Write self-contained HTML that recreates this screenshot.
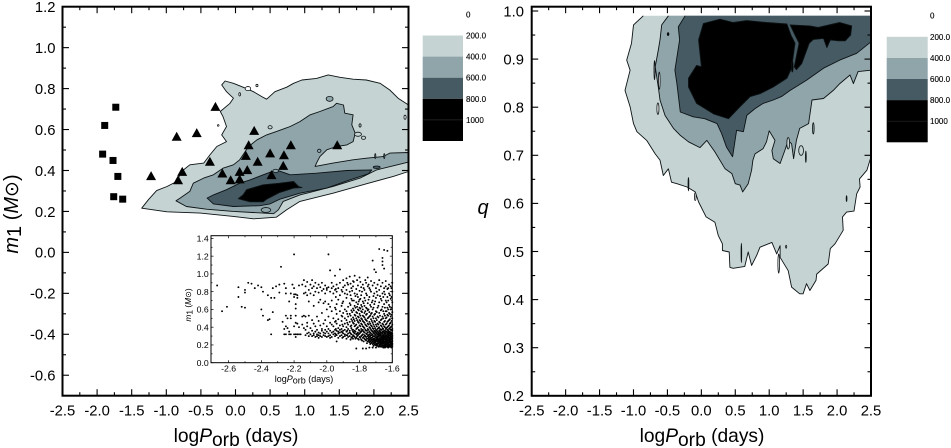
<!DOCTYPE html>
<html>
<head>
<meta charset="utf-8">
<title>Orbital period contour charts</title>
<style>
html,body{margin:0;padding:0;background:#fff;width:951px;height:448px;overflow:hidden}
svg{display:block;font-family:"Liberation Sans",sans-serif}
</style>
</head>
<body>
<svg id="figure" width="951" height="448" viewBox="0 0 951 448" xmlns="http://www.w3.org/2000/svg">
  <text x="236" y="442" font-size="19.2" text-anchor="middle">log<tspan font-style="italic">P</tspan><tspan dy="4">orb</tspan><tspan dy="-4"> (days)</tspan></text>
  <text x="702" y="442" font-size="19.2" text-anchor="middle">log<tspan font-style="italic">P</tspan><tspan dy="4">orb</tspan><tspan dy="-4"> (days)</tspan></text>
  <text transform="translate(18,214) rotate(-90)" font-size="20" text-anchor="middle"><tspan font-style="italic">m</tspan><tspan dy="3">1</tspan><tspan dy="-3"> (</tspan><tspan font-style="italic">M</tspan><tspan font-family="DejaVu Sans,sans-serif" font-size="19">⊙</tspan>)</text>
  <text x="483" y="214" font-size="20" font-style="italic" text-anchor="middle">q</text>
  <text x="304" y="382" font-size="9" text-anchor="middle">log<tspan font-style="italic">P</tspan><tspan dy="1.5">orb</tspan><tspan dy="-1.5"> (days)</tspan></text>
  <text transform="translate(191,305) rotate(-90)" font-size="8.4" text-anchor="middle"><tspan font-style="italic">m</tspan><tspan dy="1.5">1</tspan><tspan dy="-1.5"> (</tspan><tspan font-style="italic">M</tspan><tspan font-family="DejaVu Sans,sans-serif" font-size="8">⊙</tspan>)</text>
</svg>
<script>
// ---- tick values ----
const periodTicks = [-2.5,-2.0,-1.5,-1.0,-0.5,0.0,0.5,1.0,1.5,2.0,2.5];
const massTicks = [1.2,1.0,0.8,0.6,0.4,0.2,0.0,-0.2,-0.4,-0.6];
const ratioTicks = [1.0,0.9,0.8,0.7,0.6,0.5,0.4,0.3,0.2];
const insetPeriodTicks = [-2.6,-2.4,-2.2,-2.0,-1.8,-1.6];
const insetMassTicks = [1.4,1.2,1.0,0.8,0.6,0.4,0.2,0.0];
const legendLevels = [0,200,400,600,800,1000];
const legendLabels = ["0","200.0","400.0","600.0","800.0","1000"];
const legendBands = [[200,400],[400,600],[600,800],[800,1200]];

// ---- left panel contours: [logPorb, m1] ----
const massContour200 = [[-1.355,.216],[-1.26,.257],[-1.14,.302],[-.99,.322],[-.85,.346],[-.78,.395],[-.66,.428],[-.46,.436],[-.37,.476],[-.27,.517],[-.13,.541],[-.20,.574],[-.13,.615],[-.18,.663],[-.22,.688],[-.08,.728],[-.03,.753],[-.13,.785],[-.20,.818],[-.15,.837],[-.03,.826],[.11,.807],[.26,.785],[.38,.761],[.45,.748],[.57,.785],[.74,.807],[.84,.826],[.96,.842],[1.17,.85],[1.34,.867],[1.51,.855],[1.70,.846],[1.89,.842],[2.09,.826],[2.23,.793],[2.35,.753],[2.5,.72],[2.5,.395],[2.28,.371],[1.89,.335],[1.41,.289],[.93,.249],[.74,.208],[.59,.172],[.26,.164],[-.03,.176],[-.51,.192],[-.99,.198]];
const massContour400 = [[-.86,.252],[-.80,.265],[-.66,.298],[-.61,.338],[-.46,.363],[-.32,.379],[-.18,.411],[-.03,.428],[.06,.452],[.19,.517],[.31,.55],[.45,.574],[.59,.59],[.79,.615],[.93,.639],[1.08,.672],[1.22,.688],[1.41,.712],[1.46,.728],[1.56,.72],[1.58,.68],[1.70,.672],[1.68,.623],[1.73,.582],[1.70,.541],[1.61,.525],[1.46,.517],[1.32,.501],[1.22,.468],[1.17,.436],[1.15,.42],[1.41,.436],[1.70,.452],[1.89,.46],[2.13,.468],[2.23,.485],[2.5,.488],[2.5,.441],[2.28,.423],[2.04,.403],[1.80,.363],[1.41,.322],[.93,.281],[.69,.249],[.62,.208],[.55,.189],[.40,.192],[-.03,.20],[-.42,.211],[-.71,.224]];
const massContour600 = [[-.41,.265],[-.32,.281],[-.13,.306],[.06,.338],[.21,.354],[.40,.379],[.59,.403],[.79,.379],[1.17,.387],[1.61,.40],[1.97,.403],[1.92,.384],[1.65,.354],[1.32,.314],[.93,.289],[.64,.26],[.50,.237],[.35,.228],[-.03,.224],[-.32,.237]];
const massContour800 = [[.04,.262],[.11,.281],[.16,.306],[.40,.33],[.64,.338],[.84,.346],[.91,.322],[.96,.317],[.84,.314],[.64,.293],[.45,.26],[.40,.247],[.21,.247]];
const massSpecks = [[1.36,.75,.05,.012,1],[.44,.207,.07,.012,1],[.58,.398,.04,.008,1],[2.04,.416,.05,.006,2],[.18,.80,.04,.010,-1],[.31,.815,.015,.006,-1],[.06,.772,.012,.008,-1],[1.77,.577,.05,.010,0],[1.85,.56,.03,.008,0],[1.21,.496,.025,.008,1],[.50,.611,.03,.008,0],[1.80,.62,.015,.008,0],[2.02,.47,.008,.012,1],[2.15,.47,.008,.012,1],[2.45,.66,.015,.010,-1],[-.25,.62,.012,.004,-1]];

// ---- left panel stars: [logPorb, m1] ----
const squareStars = [[-1.73,.709],[-1.89,.62],[-1.92,.48],[-1.77,.449],[-1.70,.371],[-1.76,.272],[-1.63,.26]];
const triangleStars = [[-.29,.712],[-.85,.566],[-.56,.584],[.27,.595],[.19,.525],[.15,.473],[.50,.485],[.70,.476],[.80,.525],[1.47,.525],[.32,.444],[.69,.424],[-.37,.444],[-.77,.395],[-.83,.354],[-1.22,.374],[-.19,.387],[.06,.395],[.17,.403],[.52,.379],[-.07,.354],[.06,.358]];

// ---- right panel contours: [logPorb, q] ----
const ratioContour200 = [[-.855,.99],[-1.0,.971],[-1.03,.933],[-1.10,.898],[-1.05,.877],[-1.125,.835],[-1.05,.801],[-1.0,.766],[-.95,.749],[-.805,.731],[-.68,.703],[-.61,.69],[-.56,.658],[-.485,.672],[-.44,.644],[-.36,.641],[-.21,.634],[-.09,.624],[-.04,.603],[.07,.572],[.20,.561],[.25,.533],[.31,.516],[.31,.502],[.41,.499],[.42,.467],[.47,.465],[.64,.469],[.69,.499],[.74,.471],[.815,.492],[.865,.509],[1.04,.519],[1.11,.495],[1.16,.512],[1.16,.488],[1.28,.46],[1.33,.426],[1.45,.412],[1.50,.412],[1.55,.433],[1.60,.419],[1.69,.44],[1.70,.453],[1.87,.474],[1.90,.506],[1.97,.516],[2.09,.544],[2.08,.572],[2.14,.582],[2.25,.584],[2.29,.62],[2.34,.634],[2.33,.651],[2.44,.669],[2.5,.697],[2.5,.99]];
const ratioContour400 = [[-.485,.99],[-.585,.971],[-.61,.94],[-.635,.919],[-.68,.884],[-.635,.842],[-.61,.815],[-.535,.783],[-.41,.756],[-.315,.742],[-.19,.728],[-.02,.716],[.08,.731],[.20,.707],[.35,.672],[.45,.662],[.50,.641],[.57,.638],[.61,.624],[.69,.641],[.74,.669],[.76,.69],[.79,.703],[.91,.714],[.96,.728],[1.0,.751],[1.085,.731],[1.04,.71],[1.06,.693],[1.16,.683],[1.23,.71],[1.28,.731],[1.33,.724],[1.36,.693],[1.40,.731],[1.45,.756],[1.58,.766],[1.63,.815],[1.80,.818],[1.945,.835],[2.04,.849],[2.19,.867],[2.24,.849],[2.31,.874],[2.5,.877],[2.5,.99]];
const ratioContour600 = [[-.24,.99],[-.34,.967],[-.32,.94],[-.39,.877],[-.36,.849],[-.31,.79],[-.12,.78],[.05,.776],[.23,.766],[.30,.745],[.37,.717],[.46,.697],[.52,.752],[.62,.749],[.67,.783],[.79,.797],[.91,.808],[1.06,.815],[1.18,.822],[1.31,.835],[1.55,.856],[1.80,.881],[2.04,.898],[2.29,.912],[2.5,.936],[2.5,.99]];
const ratioContour800a = [[.03,.974],[.275,.983],[.47,.976],[.67,.98],[.96,.976],[1.26,.973],[1.32,.95],[1.38,.933],[1.33,.881],[1.26,.86],[1.06,.842],[.865,.828],[.72,.822],[.57,.801],[.40,.776],[.18,.786],[-.07,.808],[-.19,.842],[-.19,.86],[-.07,.887],[0,.884],[-.04,.94]];
const ratioContour800b = [[1.31,.971],[1.60,.969],[1.72,.966],[2.04,.976],[2.215,.969],[2.20,.95],[2.12,.938],[2.02,.938],[1.90,.94],[1.85,.924],[1.80,.943],[1.65,.941],[1.59,.933],[1.48,.891],[1.40,.878],[1.37,.884],[1.44,.933],[1.38,.95]];
const ratioSpecks = [[-.69,.877,.008,.02,-1],[-.64,.797,.015,.012,-1],[-.62,.855,.012,.018,-1],[-.49,.952,.012,.003,3],[1.47,.71,.035,.010,0],[1.28,.725,.02,.012,0],[1.65,.756,.012,.012,1],[1.54,.697,.006,.012,1],[-.19,.64,.006,.014,-1],[-.09,.614,.012,.008,-1],[.59,.497,.005,.02,-1],[1.14,.475,.012,.02,-1],[2.14,.61,.006,.006,-1],[1.25,.51,.008,.003,-1],[1.34,.885,.012,.012,3]];

// ---- inset scatter: each row is [logPorb, [m1 values at that period]] ----
const insetColumns = [
[-2.67,[.87]],[-2.64,[.58]],[-2.61,[.63]],[-2.54,[.85,.74]],[-2.52,[.63]],[-2.50,[.62,.82,.79]],[-2.48,[.90]],[-2.46,[.89]],[-2.44,[.84]],[-2.42,[.87]],[-2.40,[.85,.60]],[-2.39,[.80,.53]],[-2.36,[.76,.48]],[-2.35,[.49]],[-2.34,[.73,.32]],[-2.33,[.84,.57]],[-2.32,[.73]],[-2.31,[.86]],[-2.29,[.88,.79]],[-2.28,[1.08]],[-2.27,[.46]],[-2.26,[.89,.38,.32]],[-2.25,[.84,.78,.53,.41,.32]],[-2.24,[.50,.39]],[-2.23,[.69,.35,.32]],[-2.22,[.78,.53,.50,.32]],[-2.21,[.88]],[-2.20,[1.22,.84,.77,.74,.41,.32]],[-2.19,[.77,.66,.61,.53,.45,.32,.29]],[-2.18,[.76,.73,.44,.32]],[-2.17,[.87,.40,.32]],[-2.16,[.32]],[-2.15,[.88,.52,.43]],[-2.14,[.93,.78,.53,.39]],
[-2.13,[.31,.37,.52,.79,.86]],[-2.12,[.33,.41,.45,.91,.76]],[-2.11,[.30,.34,.53,.82,.69]],[-2.10,[.32,.39,.88,.78]],[-2.09,[.30,.36,.48,.84,.93]],[-2.08,[.31,.33,.44,.76,.86,.64]],[-2.07,[.29,.35,.41,.90,.80]],[-2.06,[.30,.32,.37,.52,.84]],[-2.05,[.28,.31,.34,.47,.79,.88,.68]],[-2.04,[.30,.33,.42,.71,.85]],[-2.03,[.29,.36,.38,.56,.81,.90]],[-2.02,[.31,.34,.44,.67,.83]],[-2.01,[.30,.33,.37,.48,.69,.78,.87]],[-2.00,[.29,.35,.41,.60,.82,.84]],[-1.99,[.30,.33,.38,.52,.66,.85,1.22]],[-1.98,[.28,.31,.36,.45,.63,.80,1.04]],[-1.97,[.29,.34,.43,.58,.70,.84,.90]],[-1.96,[.32,.35,.41,.50,.78,.86]],[-1.95,[.30,.33,.37,.46,.62,.82,.98]],[-1.94,[.24,.31,.36,.44,.55,.66,.80,.88]],[-1.93,[.28,.33,.35,.39,.49,.71,.84]],[-1.92,[.30,.34,.37,.42,.58,.76,.90,1.05]],[-1.91,[.31,.35,.38,.47,.53,.64,.82]],[-1.90,[.29,.33,.36,.41,.56,.69,.85,.93]],[-1.89,[.30,.32,.37,.44,.50,.60,.78,.87]],[-1.88,[.27,.31,.35,.40,.48,.58,.73,.82,.95]],[-1.87,[.29,.33,.38,.43,.52,.63,.88]],[-1.86,[.30,.34,.36,.46,.55,.67,.80,.97]],[-1.85,[.28,.32,.39,.42,.49,.59,.72,.84]],[-1.84,[.27,.31,.35,.37,.45,.51,.61,.86,.92]],[-1.83,[.29,.33,.36,.41,.47,.54,.64,.78,.98]],[-1.82,[.16,.28,.32,.38,.43,.50,.57,.68,.83]],[-1.81,[.27,.31,.34,.40,.46,.52,.60,.66,.74,.87]],[-1.80,[.29,.33,.36,.42,.48,.55,.62,.71,.81,.96]],[-1.79,[.26,.30,.35,.38,.44,.50,.58,.65,.76,.85]],[-1.78,[.16,.28,.32,.37,.41,.47,.53,.60,.69,.88]],[-1.77,[.27,.31,.34,.39,.45,.51,.56,.64,.73,.82]],[-1.76,[.16,.25,.29,.33,.36,.42,.48,.54,.62,.78,.90]],[-1.75,[.24,.27,.30,.34,.38,.44,.50,.59,.67,.86,.96]],[-1.74,[.17,.23,.26,.29,.32,.35,.40,.46,.52,.57,.74,.84]],[-1.73,[.22,.25,.28,.31,.33,.37,.42,.49,.55,.63,.80,.92]],[-1.72,[.17,.21,.24,.26,.29,.32,.35,.39,.45,.52,.60,.70,.87,1.15]],[-1.71,[.21,.23,.25,.27,.30,.33,.36,.41,.47,.54,.66,.78,.90,1.05]],[-1.70,[.17,.20,.22,.24,.26,.28,.31,.34,.37,.43,.50,.58,.73,.84,1.02]],[-1.69,[.20,.22,.24,.26,.28,.30,.32,.35,.38,.44,.52,.62,.76,.88]],[-1.68,[.19,.21,.23,.25,.27,.29,.31,.33,.36,.40,.46,.56,.68,.82,.93,1.28]],[-1.67,[.19,.21,.22,.24,.26,.28,.30,.32,.34,.37,.42,.48,.59,.72,.86]],[-1.66,[.19,.20,.22,.23,.25,.27,.29,.31,.33,.35,.39,.44,.52,.63,.78,.90,1.10,1.14,1.18]],[-1.65,[.18,.20,.21,.23,.24,.26,.28,.30,.32,.34,.36,.41,.46,.55,.66,.80,.84,1.06,1.27]],[-1.64,[.18,.20,.21,.22,.24,.25,.27,.29,.31,.33,.35,.38,.43,.50,.58,.70,.86,.92]],[-1.63,[.18,.19,.21,.22,.23,.25,.26,.28,.30,.32,.34,.37,.40,.46,.54,.62,.74,.83,1.26]],[-1.62,[.18,.19,.20,.21,.23,.24,.26,.27,.29,.31,.33,.35,.38,.42,.48,.56,.65,.78,.88]],[-1.61,[.18,.19,.20,.22,.23,.24,.26,.27,.29,.30,.32,.34,.37,.40,.45,.52,.60,.72,.86]],[-1.60,[.18,.20,.21,.22,.24,.25,.27,.28,.30,.31,.33,.36,.38,.43,.50,.57,.68,.80,.90]],
[-1.945,[.32,.38,.47,.60,.74,.83]],[-1.905,[.28,.34,.43,.52,.67,.80]],[-1.875,[.31,.36,.45,.55,.77,.90]],[-1.855,[.26,.33,.41,.53,.65,.76,.89]],[-1.845,[.29,.37,.47,.57,.70,.81]],
[-1.835,[.30,.34,.44,.49,.59,.70,.91]],[-1.825,[.27,.35,.42,.53,.62,.75]],[-1.815,[.30,.33,.39,.48,.56,.63,.77,.93]],[-1.805,[.26,.32,.37,.45,.51,.59,.69]],[-1.795,[.28,.34,.41,.47,.53,.61,.72,.91]],[-1.785,[.25,.31,.36,.43,.49,.57,.63,.80]],[-1.775,[.24,.29,.35,.40,.46,.52,.67,.84]],[-1.765,[.26,.30,.37,.43,.49,.58,.70,.93]],[-1.755,[.22,.27,.32,.36,.41,.47,.55,.61,.76]],[-1.745,[.25,.28,.31,.37,.43,.51,.60,.71,.88]],[-1.735,[.21,.24,.27,.30,.34,.39,.44,.53,.65,.82]],[-1.725,[.23,.26,.28,.31,.36,.41,.47,.56,.68]],[-1.715,[.19,.22,.25,.27,.30,.34,.38,.43,.50,.62,.75]],[-1.705,[.20,.23,.25,.29,.32,.35,.39,.46,.55,.69]],[-1.695,[.19,.21,.25,.27,.29,.33,.36,.41,.48,.57,.80]],[-1.685,[.18,.22,.24,.26,.30,.32,.34,.39,.43,.51,.64]],[-1.675,[.18,.20,.23,.25,.27,.31,.33,.35,.38,.45,.53,.75]],[-1.665,[.18,.21,.23,.24,.26,.28,.30,.34,.37,.41,.49,.60,.70]],[-1.655,[.17,.19,.22,.24,.25,.27,.29,.31,.35,.38,.43,.50,.58,.74]],[-1.645,[.17,.19,.21,.23,.26,.28,.30,.33,.36,.40,.47,.53,.62,.77]],[-1.635,[.18,.20,.22,.24,.26,.27,.29,.31,.35,.39,.44,.51,.58,.68]],[-1.625,[.17,.19,.21,.22,.25,.28,.30,.32,.34,.36,.41,.47,.53,.60,.70,.84]],[-1.615,[.18,.20,.23,.25,.28,.31,.33,.35,.39,.44,.49,.55,.63,.76]],[-1.605,[.17,.19,.21,.23,.26,.29,.32,.34,.37,.41,.47,.54,.62,.74,.84]]
];

// ---- rendering ----
const NS = 'http://www.w3.org/2000/svg';
const svg = document.getElementById('figure');
const contourFills = ['#c5d3d3','#90a5aa','#465a63','#000000'];
function linear(d0,d1,r0,r1){ return v => r0 + (v-d0)*(r1-r0)/(d1-d0); }
function make(tag, attrs, parent){
  const el = document.createElementNS(NS, tag);
  for (const k in attrs) el.setAttribute(k, attrs[k]);
  (parent||svg).appendChild(el);
  return el;
}
function drawContour(pts, sx, sy, fill, name, g, openTop){
  const coords = pts.map(p => sx(p[0]).toFixed(1)+','+sy(p[1]).toFixed(1));
  const strokeOnFill = openTop ? {} : {stroke:'#0c1214', 'stroke-width':'0.9', 'stroke-linejoin':'round'};
  const el = make('polygon', Object.assign({points: coords.join(' '), fill: fill}, strokeOnFill), g);
  
  
  if (openTop){
    const edge = make('polyline', {points: coords.join(' '), fill:'none', stroke:'#0c1214', 'stroke-width':'0.9', 'stroke-linejoin':'round'}, g);
    
    
  }
}
function drawSpecks(list, sx, sy, name, g){
  list.forEach(s => {
    const el = make('ellipse', {cx:sx(s[0]), cy:sy(s[1]), rx:Math.abs(sx(s[0]+s[2])-sx(s[0])), ry:Math.abs(sy(s[1]+s[3])-sy(s[1])), fill: s[4] < 0 ? '#ffffff' : contourFills[s[4]], stroke:'#0c1214', 'stroke-width':'0.8'}, g);
    
    
  });
}
function drawAxes(opts){
  const g = make('g', {});
  
  
  const {left,right,top,bottom,sx,sy,xTicks,yTicks,major,minor,sw,fontSize,xLabelY,yLabelX} = opts;
  const line = (x1,y1,x2,y2,w) => make('line',{x1,y1,x2,y2,stroke:'#000','stroke-width':w},g);
  const xStep = (xTicks[1]-xTicks[0])/2;
  const yStep = (yTicks[1]-yTicks[0])/2;
  xTicks.forEach((t,i) => {
    const x = sx(t);
    line(x,bottom,x,bottom-major,opts.tw);
    line(x,top,x,top+major,opts.tw);
    if (i < xTicks.length-1){
      const m = sx(t+xStep);
      line(m,bottom,m,bottom-minor,opts.tw);
      line(m,top,m,top+minor,opts.tw);
    }
    const lab = make('text',{x:x,y:xLabelY,'font-size':fontSize,'text-anchor':'middle'},g);
    lab.textContent = t.toFixed(1);
    
    
  });
  yTicks.forEach((t) => {
    const y = sy(t);
    line(left,y,left+major,y,opts.tw);
    line(right,y,right-major,y,opts.tw);
    const m = sy(t+yStep);
    if (m > top && m < bottom){
      line(left,m,left+minor,m,opts.tw);
      line(right,m,right-minor,m,opts.tw);
    }
    const lab = make('text',{x:yLabelX,y:y+fontSize*0.36,'font-size':fontSize,'text-anchor':'end'},g);
    lab.textContent = t.toFixed(1);
    
    
  });
  const frame = make('rect',{x:left,y:top,width:right-left,height:bottom-top,fill:'none',stroke:'#000','stroke-width':sw},g);
  
  
}
function drawLegend(name, x, w, topY, labelX){
  const g = make('g', {});
  
  
  const ly = linear(0,1000,topY,topY+105.5);
  legendBands.forEach((b,i) => {
    const r = make('rect',{x:x,y:ly(b[0]),width:w,height:ly(b[1])-ly(b[0]),fill:contourFills[i]},g);
    
    
  });
  make('line',{x1:x,x2:x+w,y1:ly(1000),y2:ly(1000),stroke:'#2a2a2a','stroke-width':'0.7'},g);
  legendLevels.forEach((lvl,i) => {
    const t = make('text',{x:labelX,y:ly(lvl)+3,'font-size':'8','font-weight':'400',stroke:'#000','stroke-width':'0.12'},g);
    t.textContent = legendLabels[i];
    
    
  });
}

// left panel
const lx = linear(-2.5,2.5,62.5,408.5);
const ly = linear(1.2,-0.7,6.7,395.7);
const leftG = make('g', {});


drawContour(massContour200, lx, ly, contourFills[0], 'contour-200', leftG);
drawContour(massContour400, lx, ly, contourFills[1], 'contour-400', leftG);
drawContour(massContour600, lx, ly, contourFills[2], 'contour-600', leftG);
drawContour(massContour800, lx, ly, contourFills[3], 'contour-800', leftG);
drawSpecks(massSpecks, lx, ly, 'contour-island', leftG);
squareStars.forEach(p => {
  const s = make('rect',{x:lx(p[0])-3.5,y:ly(p[1])-3.5,width:7,height:7,fill:'#000'});
  
  
});
triangleStars.forEach(p => {
  const x = lx(p[0]), y = ly(p[1]);
  const t = make('polygon',{points:`${x-5},${y+4.3} ${x+5},${y+4.3} ${x},${y-4.7}`,fill:'#000'});
  
  
});
drawAxes({name:'left-axes',left:62.5,right:408.5,top:6.7,bottom:395.7,sx:lx,sy:ly,xTicks:periodTicks,yTicks:massTicks,major:6.5,minor:3.5,sw:2,tw:1.1,fontSize:14.8,xLabelY:415.5,yLabelX:55.5});
drawLegend('left-legend', 422.7, 40.3, 14.4, 466);

// inset
const ix = linear(-1.6,-2.6,392.3,228.6);
const iy = linear(0,1.4,362.7,238.4);
const insetG = make('g', {});


insetColumns.forEach(col => {
  col[1].forEach(m => {
    const c = make('circle',{cx:ix(col[0]),cy:iy(m),r:0.95,fill:'#000'},insetG);
    
    
  });
});
drawAxes({name:'inset-axes',left:211,right:392.3,top:235.7,bottom:362.7,sx:ix,sy:iy,xTicks:insetPeriodTicks,yTicks:insetMassTicks,major:2.5,minor:1.5,sw:1,tw:0.7,fontSize:8.7,xLabelY:371.5,yLabelX:208.7});

// right panel
const rx = linear(-2.5,2.5,531.7,871);
const ry = linear(0.2,1.0,395.8,11);
const rightG = make('g', {});


drawContour(ratioContour200, rx, ry, contourFills[0], 'contour-200', rightG, true);
drawContour(ratioContour400, rx, ry, contourFills[1], 'contour-400', rightG, true);
drawContour(ratioContour600, rx, ry, contourFills[2], 'contour-600', rightG, true);
drawContour(ratioContour800a, rx, ry, contourFills[3], 'contour-800-main', rightG);
drawContour(ratioContour800b, rx, ry, contourFills[3], 'contour-800-ridge', rightG);
drawSpecks(ratioSpecks, rx, ry, 'contour-island', rightG);
drawAxes({name:'right-axes',left:531.7,right:871,top:6.7,bottom:395.8,sx:rx,sy:ry,xTicks:periodTicks,yTicks:ratioTicks,major:6.5,minor:3.5,sw:2,tw:1.1,fontSize:14.8,xLabelY:415.5,yLabelX:524});
drawLegend('right-legend', 886.7, 41, 15.7, 930);
</script>
</body>
</html>
